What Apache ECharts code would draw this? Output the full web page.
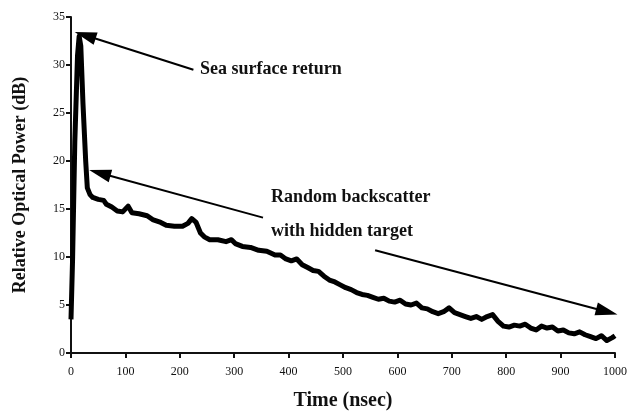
<!DOCTYPE html>
<html>
<head>
<meta charset="utf-8">
<script src="https://cdn.jsdelivr.net/npm/echarts@6/dist/echarts.min.js"></script>
<style>
  html, body { margin: 0; padding: 0; background: #fff; }
  #chart { width: 635px; height: 412px; }
</style>
</head>
<body>
<div id="chart"></div>
<script>
// time in nsec, power in dB
const timeNs = [0, 3, 7, 12, 15, 18, 22, 27, 30, 35, 40, 50, 60, 65, 75, 85, 95, 105, 112, 125,
  140, 150, 165, 175, 190, 205, 215, 222, 230, 238, 245, 255, 270, 285, 295, 302, 315, 330, 345, 360,
  375, 385, 395, 405, 415, 425, 435, 445, 455, 465, 475, 485, 495, 505, 515, 525, 535, 545, 555, 565,
  575, 585, 595, 605, 615, 625, 635, 645, 655, 665, 675, 685, 695, 705, 715, 725, 735, 745, 755, 765,
  775, 785, 795, 805, 815, 825, 835, 845, 855, 865, 875, 885, 895, 905, 915, 925, 935, 945, 955, 965,
  975, 985, 995, 1000];
const powerDb = [3.5, 10, 22, 31, 33, 32, 26, 20, 17.2, 16.5, 16.2, 16.0, 15.9, 15.5, 15.2, 14.8, 14.7, 15.3, 14.6, 14.5,
  14.3, 13.9, 13.6, 13.3, 13.2, 13.2, 13.5, 14.0, 13.6, 12.5, 12.1, 11.8, 11.8, 11.6, 11.8, 11.4, 11.1, 11.0, 10.7, 10.6,
  10.2, 10.2, 9.8, 9.6, 9.8, 9.2, 8.9, 8.6, 8.5, 8.0, 7.6, 7.4, 7.1, 6.8, 6.6, 6.3, 6.1, 6.0, 5.8, 5.6,
  5.7, 5.4, 5.3, 5.5, 5.1, 5.0, 5.2, 4.7, 4.6, 4.3, 4.1, 4.3, 4.7, 4.2, 4.0, 3.8, 3.6, 3.8, 3.5, 3.8,
  4.0, 3.3, 2.8, 2.7, 2.9, 2.8, 3.0, 2.6, 2.4, 2.8, 2.6, 2.7, 2.3, 2.4, 2.1, 2.0, 2.2, 1.9, 1.7, 1.5,
  1.8, 1.3, 1.6, 1.8];

// annotation arrows [from, to] in data coords
const arrowSea = [[225, 29.5], [26, 33.1]];
const arrowScatter = [[353, 14.1], [53, 18.75]];
const arrowTarget = [[559, 10.7], [985, 4.3]];

const serif = '"Liberation Serif", "DejaVu Serif", serif';

const chart = echarts.init(document.getElementById('chart'));

function arrow(pts) {
  return [{ coord: pts[0] }, { coord: pts[1] }];
}

chart.setOption({
  animation: false,
  backgroundColor: '#fff',
  grid: { left: 71, right: 20, top: 17, bottom: 59, outerBoundsMode: 'none' },
  xAxis: {
    type: 'value',
    min: 0,
    max: 1000,
    interval: 100,
    name: 'Time (nsec)',
    nameLocation: 'middle',
    nameGap: 38,
    nameTextStyle: { fontFamily: serif, fontWeight: 'bold', fontSize: 20, color: '#111' },
    axisLine: { lineStyle: { color: '#111', width: 2 } },
    axisTick: { inside: false, length: 5, lineStyle: { color: '#111', width: 2 } },
    axisLabel: { fontFamily: serif, fontSize: 12, color: '#111', margin: 13, formatter: v => String(v) },
    splitLine: { show: false }
  },
  yAxis: {
    type: 'value',
    min: 0,
    max: 35,
    interval: 5,
    name: 'Relative Optical Power (dB)',
    nameLocation: 'middle',
    nameGap: 42,
    nameTextStyle: { fontFamily: serif, fontWeight: 'bold', fontSize: 18, color: '#111' },
    axisLine: { show: true, lineStyle: { color: '#111', width: 2 } },
    axisTick: { show: true, length: 5, lineStyle: { color: '#111', width: 2 } },
    axisLabel: { fontFamily: serif, fontSize: 12, color: '#111', margin: 6 },
    splitLine: { show: false }
  },
  series: [
    {
      name: 'return',
      type: 'line',
      data: timeNs.map((t, i) => [t, powerDb[i]]),
      symbol: 'none',
      lineStyle: { color: '#000', width: 5, join: 'round' },
      markLine: {
        silent: true,
        symbol: ['none', 'triangle'],
        symbolSize: [13, 22],
        label: { show: false },
        lineStyle: { color: '#000', width: 2, type: 'solid' },
        data: [arrow(arrowSea), arrow(arrowScatter), arrow(arrowTarget)]
      }
    }
  ],
  graphic: [
    {
      type: 'text', left: 200, top: 60,
      style: { text: 'Sea surface return', fontFamily: serif, fontWeight: 'bold', fontSize: 18, fill: '#111' }
    },
    {
      type: 'text', left: 271, top: 188,
      style: { text: 'Random backscatter', fontFamily: serif, fontWeight: 'bold', fontSize: 18, fill: '#111' }
    },
    {
      type: 'text', left: 271, top: 222,
      style: { text: 'with hidden target', fontFamily: serif, fontWeight: 'bold', fontSize: 18, fill: '#111' }
    }
  ]
});
</script>
</body>
</html>
